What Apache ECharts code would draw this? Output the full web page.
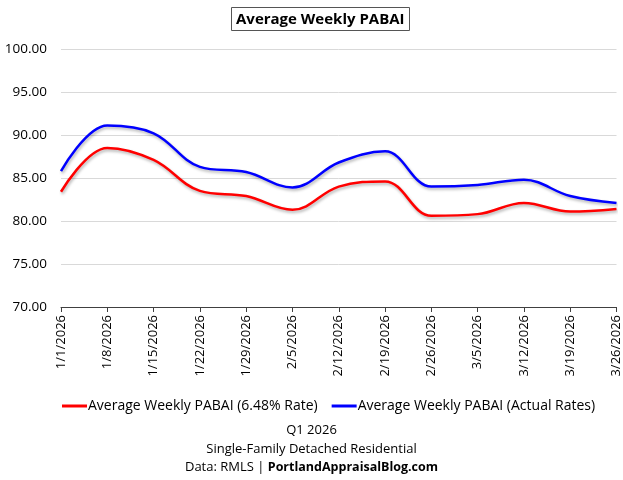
<!DOCTYPE html>
<html>
<head>
<meta charset="utf-8">
<script src="https://cdn.jsdelivr.net/npm/echarts@6/dist/echarts.min.js"></script>
<style>
  html, body { margin: 0; padding: 0; background: #fff; }
  #chart1 { width: 623px; height: 480px; }
</style>
</head>
<body>
<div id="chart1"></div>
<script>
var weeks = ["1/1/2026", "1/8/2026", "1/15/2026", "1/22/2026", "1/29/2026", "2/5/2026", "2/12/2026",
  "2/19/2026", "2/26/2026", "3/5/2026", "3/12/2026", "3/19/2026", "3/26/2026"];
var fixedRate = [83.4, 88.5, 87.1, 83.5, 82.9, 81.3, 84.0, 84.6, 80.6, 80.8, 82.1, 81.1, 81.4];
var actualRates = [85.8, 91.1, 90.2, 86.3, 85.7, 83.9, 86.8, 88.1, 84.0, 84.2, 84.8, 82.9, 82.1];
var seriesNames = ["Average Weekly PABAI (6.48% Rate)", "Average Weekly PABAI (Actual Rates)"];

var font = "'Open Sans', 'Noto Sans', sans-serif";
var dom = document.getElementById("chart1");
var myChart = echarts.init(dom);

var shadow = {
  shadowColor: 'rgba(0,0,0,0.3)',
  shadowBlur: 3,
  shadowOffsetX: 1,
  shadowOffsetY: 2
};

function lineSeries(name, data, color) {
  return {
    name: name,
    type: 'line',
    data: data,
    smooth: 0.38,
    showSymbol: false,
    lineStyle: Object.assign({ color: color, width: 2.5 }, shadow),
    itemStyle: { color: color }
  };
}

var footStyle = { fontFamily: font, fontSize: 13, fontWeight: 'normal', color: '#000' };

option = {
  animation: false,
  title: [{
    text: 'Average Weekly PABAI',
    left: 231,
    top: 7,
    borderColor: '#555',
    borderWidth: 1,
    padding: [5, 5, 4, 5],
    textStyle: { fontFamily: font, fontSize: 15, fontWeight: 'bold', color: '#000' }
  }, {
    text: 'Q1 2026',
    left: 'center',
    top: 424,
    padding: 0,
    textStyle: footStyle
  }, {
    text: 'Single-Family Detached Residential',
    left: 'center',
    top: 443,
    padding: 0,
    textStyle: footStyle
  }, {
    text: '{a|Data: RMLS | }{b|PortlandAppraisalBlog.com}',
    left: 'center',
    top: 461,
    padding: 0,
    textStyle: {
      rich: {
        a: footStyle,
        b: { fontFamily: font, fontSize: 12.5, fontWeight: 'bold', color: '#000' }
      }
    }
  }],
  legend: {
    top: 399,
    left: 62,
    padding: 0,
    itemWidth: 25,
    itemHeight: 3,
    itemGap: 14,
    icon: 'rect',
    textStyle: { fontFamily: font, fontSize: 14, color: '#000', padding: [0, 0, 0, -4] },
    data: seriesNames
  },
  grid: { left: 61, right: 5, top: 49, bottom: 173 },
  xAxis: {
    type: 'category',
    data: weeks,
    boundaryGap: false,
    axisLine: { lineStyle: { color: '#404040', width: 1 } },
    axisTick: { show: true, length: 5, lineStyle: { color: '#404040' } },
    axisLabel: { rotate: 90, fontFamily: font, fontSize: 13, color: '#000', margin: 8, interval: 0 }
  },
  yAxis: {
    type: 'value',
    min: 70,
    max: 100,
    interval: 5,
    axisLine: { show: false },
    axisTick: { show: false },
    splitLine: { lineStyle: { color: '#d9d9d9' } },
    axisLabel: {
      fontFamily: font, fontSize: 13.5, color: '#000', margin: 14,
      formatter: function (v) { return v.toFixed(2); }
    }
  },
  series: [
    lineSeries(seriesNames[0], fixedRate, '#ff0000'),
    lineSeries(seriesNames[1], actualRates, '#0000ff')
  ]
};

myChart.setOption(option, true);
</script>
</body>
</html>
